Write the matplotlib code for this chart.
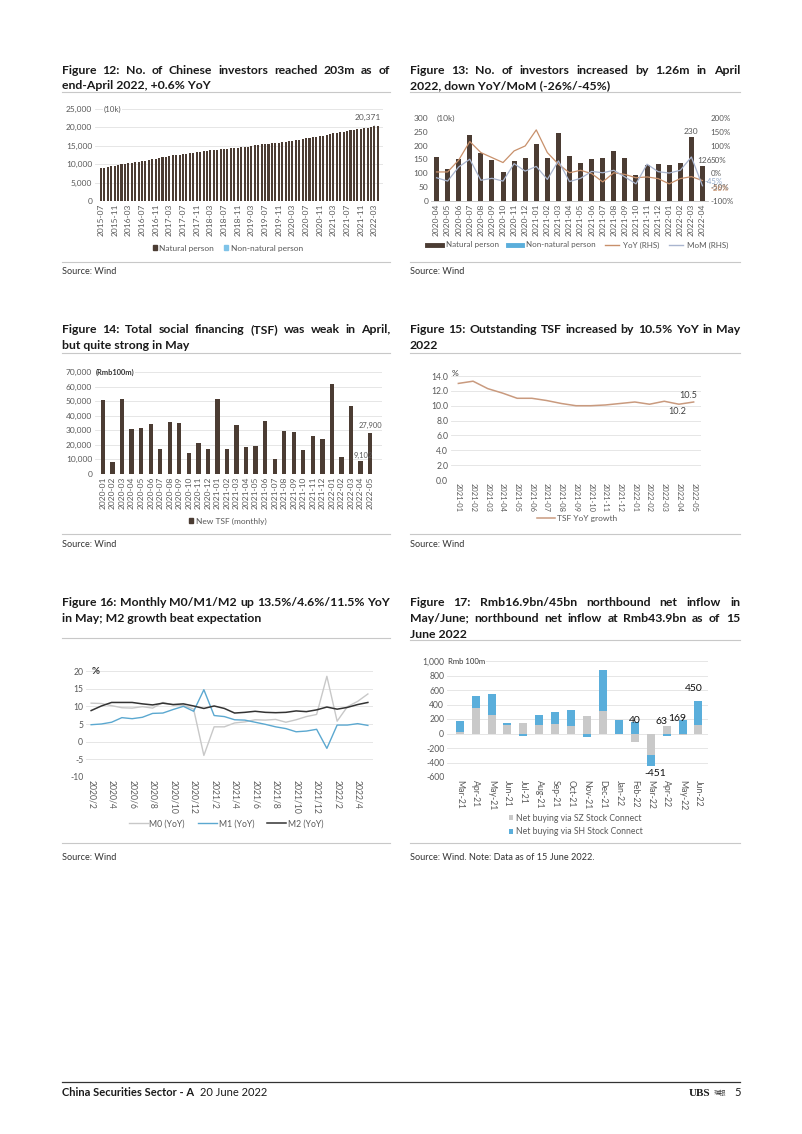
import numpy as np
import pandas as pd
import matplotlib
matplotlib.use('Agg')
import matplotlib.pyplot as plt
from matplotlib.lines import Line2D
from matplotlib.patches import Patch
from matplotlib.ticker import FuncFormatter

plt.rcParams['font.family'] = ['Lato', 'DejaVu Sans']
plt.rcParams['axes.unicode_minus'] = False

W, H = 802, 1134

# ---- Figure 12: number of investors (10k), 2015-07 .. 2022-04
months12 = list(pd.period_range('2015-07', '2022-04', freq='M').strftime('%Y-%m'))
investors = [8900, 9100, 9250, 9380, 9570, 9910,
             10030, 10110, 10320, 10460, 10560, 10670, 10800, 10990, 11160, 11300, 11530, 11811,
             11920, 12050, 12250, 12380, 12500, 12630, 12760, 12890, 13020, 13140, 13270, 13398,
             13520, 13600, 13730, 13820, 13910, 14000, 14100, 14190, 14270, 14360, 14460, 14550,
             14650, 14760, 15050, 15180, 15280, 15380, 15480, 15590, 15680, 15760, 15860, 15975,
             16080, 16250, 16440, 16560, 16670, 16830, 17070, 17250, 17370, 17480, 17620, 17777,
             17990, 18150, 18390, 18560, 18700, 18850, 19020, 19200, 19350, 19450, 19590, 19740,
             19890, 20020, 20250, 20371]

# ---- Figure 13: new investors (10k), YoY / MoM (%)
months13 = list(pd.period_range('2020-04', '2022-04', freq='M').strftime('%Y-%m'))
new_inv = [160, 117, 150, 239, 174, 148, 106, 145, 157, 206, 155, 244, 164, 139, 150, 155,
           181, 155, 93, 129, 133, 129, 137, 230, 126]
yoy13 = [5, 5, 48, 115, 75, 57, 39, 81, 99, 157, 75, 33, 2, 11, -1, -31, 2, -4, -16, -13,
         -19, -38, -19, -12, -26]
mom13 = [-16, -28, 23, 51, -25, -18, -28, 35, 8, 25, -22, 45, -30, -18, 7, 2, 11, -13, -38,
         33, 6, 1, 11, 59, -45]

# ---- Figure 14: new TSF (Rmb100m)
months14 = list(pd.period_range('2020-01', '2022-05', freq='M').strftime('%Y-%m'))
tsf = [50674, 8554, 51800, 30900, 31900, 34300, 16900, 35800, 34800, 14200, 21300, 17200,
       51700, 17100, 33400, 18500, 19200, 36700, 10600, 29600, 29000, 16200, 26100, 23700,
       61700, 11900, 46500, 9102, 27900]

# ---- Figure 15: outstanding TSF YoY (%)
months15 = list(pd.period_range('2021-01', '2022-05', freq='M').strftime('%Y-%m'))
tsf_yoy = [13.0, 13.3, 12.3, 11.7, 11.0, 11.0, 10.7, 10.3, 10.0, 10.0, 10.1, 10.3, 10.5,
           10.2, 10.6, 10.2, 10.5]

# ---- Figure 16: M0/M1/M2 YoY (%)
months16 = [f'{p.year}/{p.month}' for p in pd.period_range('2020-02', '2022-05', freq='M')]
m0 = [10.9, 10.8, 10.2, 9.6, 9.5, 9.9, 9.5, 11.1, 10.4, 10.3, 9.2, -3.9, 4.2, 4.2, 5.3, 5.6,
      6.2, 6.1, 6.3, 5.5, 6.2, 7.1, 7.7, 18.5, 5.8, 9.9, 11.4, 13.5]
m1 = [4.8, 5.0, 5.5, 6.8, 6.5, 6.9, 8.0, 8.1, 9.1, 10.0, 8.6, 14.7, 7.4, 7.1, 6.2, 6.1,
      5.5, 4.9, 4.2, 3.7, 2.8, 3.0, 3.5, -1.9, 4.7, 4.7, 5.1, 4.6]
m2 = [8.8, 10.1, 11.1, 11.1, 11.1, 10.7, 10.4, 10.9, 10.5, 10.7, 10.1, 9.4, 10.1, 9.4, 8.1,
      8.3, 8.6, 8.3, 8.2, 8.3, 8.7, 8.5, 9.0, 9.8, 9.2, 9.7, 10.5, 11.1]

# ---- Figure 17: northbound net buying (Rmb100m)
months17 = list(pd.period_range('2021-03', '2022-06', freq='M').strftime('%b-%y'))
sz = [15, 350, 250, 115, 145, 114, 132, 109, 241, 305, -10, -118, -290, 100, -21, 115]
sh = [162, 164, 295, 25, -36, 146, 163, 214, -55, 568, 180, 158, -161, -37, 190, 335]

BROWN = '#4B3C33'
BLUE = '#5AAEDB'
GREY = '#C9C9C9'
TAN = '#C99A7E'
TXT = '#595959'
TICK = 6.0

fig = plt.figure(figsize=(W / 100, H / 100), dpi=100)
renderer = fig.canvas.get_renderer()


def add_ax(l, t, r, b):
    return fig.add_axes([l / W, 1 - b / H, (r - l) / W, (b - t) / H])


def ftext(x, y, s, **kw):
    return fig.text(x / W, 1 - y / H, s, **kw)


def hrule(x0, x1, y, color='#C8C8C8', lw=0.8):
    fig.add_artist(Line2D([x0 / W, x1 / W], [1 - y / H, 1 - y / H], color=color, lw=lw))


def title_block(x0, x1, y0, lines):
    kw = dict(fontsize=8.8, fontweight='bold', va='center', color='#1A1A1A')
    for i, line in enumerate(lines):
        y = y0 + i * 15.5
        if i == len(lines) - 1:
            ftext(x0, y, line, **kw)
            continue
        words = line.split(' ')
        ts = [ftext(0, y, w, **kw) for w in words]
        widths = [t.get_window_extent(renderer).width for t in ts]
        gap = (x1 - x0 - sum(widths)) / (len(words) - 1)
        x = x0
        for t, w in zip(ts, widths):
            t.set_x(x / W)
            x += w + gap


def style(ax, grid=True, size=TICK):
    for s in ax.spines.values():
        s.set_visible(False)
    ax.tick_params(length=0, labelsize=size, colors=TXT, pad=2)
    if grid:
        ax.yaxis.grid(True, color='#E2E2E2', lw=0.6)
        ax.set_axisbelow(True)


comma = FuncFormatter(lambda v, p: f'{v:,.0f}')
LX0, LX1 = 62, 390
RX0, RX1 = 410, 740

# ================= Figure 12 =================
title_block(LX0, LX1, 70, ['Figure 12: No. of Chinese investors reached 203m as of',
                           'end-April 2022, +0.6% YoY'])
hrule(LX0, LX1, 92)
ax = add_ax(95, 109, 383, 201)
style(ax)
x = np.arange(len(investors))
ax.bar(x, investors, width=0.6, color=BROWN)
ax.set_xlim(-1.75, 82.5)
ax.set_ylim(0, 25000)
ax.set_yticks(range(0, 25001, 5000))
ax.yaxis.set_major_formatter(comma)
ax.set_xticks(x[::4])
ax.set_xticklabels(months12[::4], rotation=90)
ax.text(0.8, 25000, '(10k)', fontsize=5.8, color=TXT, va='center', ha='left',
        bbox=dict(fc='white', ec='none', pad=0.5))
ax.annotate(f'{investors[-1]:,}', xy=(x[-1] - 1, investors[-1]), xytext=(x[-1] - 3, 22800),
            fontsize=6.0, color=TXT, ha='center', va='center',
            arrowprops=dict(arrowstyle='-', color='#999999', lw=0.5))
ax.legend(handles=[Patch(color=BROWN, label='Natural person'),
                   Patch(color='#7FC3E8', label='Non-natural person')],
          loc='center', bbox_to_anchor=(228 / W, 1 - 248 / H), bbox_transform=fig.transFigure,
          ncol=2, frameon=False, fontsize=6.0, handlelength=0.5, handleheight=0.5,
          handletextpad=0.3, columnspacing=1.2, labelcolor=TXT)
hrule(LX0, LX1, 262)
ftext(LX0, 272, 'Source: Wind', fontsize=6.6, va='center', color='#333333')

# ================= Figure 13 =================
title_block(RX0, RX1, 70, ['Figure 13: No. of investors increased by 1.26m in April',
                           '2022, down YoY/MoM (-26%/-45%)'])
hrule(RX0, RX1, 92)
ax = add_ax(431, 118, 708, 201)
style(ax, grid=False)
ax.spines['bottom'].set_visible(True)
ax.spines['bottom'].set_color('#BFBFBF')
ax.spines['bottom'].set_linewidth(0.6)
x = np.arange(len(new_inv))
ax.bar(x, new_inv, width=0.45, color=BROWN)
ax.set_xlim(-0.5, 24.5)
ax.set_ylim(0, 300)
ax.set_yticks(range(0, 301, 50))
ax.set_xticks(x)
ax.set_xticklabels(months13, rotation=90)
ax.text(0.0, 300, '(10k)', fontsize=6.0, color=TXT, va='center', ha='left')
ax.text(x[-2], new_inv[-2] + 8, f'{new_inv[-2]}', fontsize=6.0, color=TXT, ha='center', va='bottom')
ax.text(x[-1] + 0.2, new_inv[-1] + 8, f'{new_inv[-1]}', fontsize=6.0, color=TXT, ha='center', va='bottom')
ax2 = ax.twinx()
style(ax2, grid=False, size=5.8)
ax2.plot(x, yoy13, color='#C8906B', lw=0.9)
ax2.plot(x, mom13, color='#A9B5CF', lw=0.9)
ax2.set_ylim(-100, 200)
ax2.set_yticks(range(-100, 201, 50))
ax2.yaxis.set_major_formatter(FuncFormatter(lambda v, p: f'{v:.0f}%'))
ax2.text(x[-1] + 0.7, yoy13[-1] - 28, f'{yoy13[-1]}%', fontsize=5.6, color='#C8906B',
         ha='left', va='center')
ax2.text(x[-1] + 0.2, mom13[-1] + 16, f'{mom13[-1]}%', fontsize=5.6, color='#8FA7C8',
         ha='left', va='center')
ax.legend(handles=[Line2D([], [], color=BROWN, lw=3.5, label='Natural person'),
                   Line2D([], [], color=BLUE, lw=3.5, label='Non-natural person'),
                   Line2D([], [], color='#C8906B', lw=1, label='YoY (RHS)'),
                   Line2D([], [], color='#A9B5CF', lw=1, label='MoM (RHS)')],
          loc='center', bbox_to_anchor=(578 / W, 1 - 245 / H), bbox_transform=fig.transFigure,
          ncol=4, frameon=False, fontsize=5.8, handlelength=1.8, handletextpad=0.5,
          columnspacing=1.1, labelcolor=TXT)
hrule(RX0, RX1, 262)
ftext(RX0, 272, 'Source: Wind', fontsize=6.6, va='center', color='#333333')

# ================= Figure 14 =================
title_block(LX0, LX1, 330, ['Figure 14: Total social financing (TSF) was weak in April,',
                            'but quite strong in May'])
hrule(LX0, LX1, 353)
ax = add_ax(95, 372, 382, 474)
style(ax)
x = np.arange(len(tsf))
ax.bar(x, tsf, width=0.45, color=BROWN)
ax.set_xlim(-0.84, 29.25)
ax.set_ylim(0, 70000)
ax.set_yticks(range(0, 70001, 10000))
ax.yaxis.set_major_formatter(comma)
ax.set_xticks(x)
ax.set_xticklabels(months14, rotation=90)
ax.text(-0.75, 70000, '(Rmb100m)', fontsize=5.4, color='#333333', fontweight='bold',
        va='center', ha='left', bbox=dict(fc='white', ec='none', pad=0.5))
ax.text(x[-2] + 0.25, 13000, f'{tsf[-2]:,}', fontsize=5.4, color=TXT, ha='center', va='center')
ax.text(x[-1], 33500, f'{tsf[-1]:,}', fontsize=5.4, color=TXT, ha='center', va='center')
ax.legend(handles=[Patch(color=BROWN, label='New TSF (monthly)')],
          loc='center', bbox_to_anchor=(228 / W, 1 - 521 / H), bbox_transform=fig.transFigure,
          frameon=False, fontsize=6.0, handlelength=0.5, handleheight=0.5,
          handletextpad=0.3, labelcolor=TXT)
hrule(LX0, LX1, 534)
ftext(LX0, 545, 'Source: Wind', fontsize=6.6, va='center', color='#333333')

# ================= Figure 15 =================
title_block(RX0, RX1, 330, ['Figure 15: Outstanding TSF increased by 10.5% YoY in May',
                            '2022'])
hrule(RX0, RX1, 353)
ax = add_ax(451, 376, 701, 480)
style(ax, size=6.2)
ax.tick_params(axis='x', labelsize=5.4)
x = np.arange(len(tsf_yoy))
ax.plot(x, tsf_yoy, color=TAN, lw=1.1)
ax.set_xlim(-0.5, 16.5)
ax.set_ylim(0, 14)
ax.set_yticks(np.arange(0, 14.1, 2))
ax.yaxis.set_major_formatter(FuncFormatter(lambda v, p: f'{v:.1f}'))
ax.set_xticks(x)
ax.set_xticklabels(months15, rotation=-90)
ax.text(-0.45, 14.4, '%', fontsize=6.0, color='#333333', ha='left', va='center')
ax.text(x[-1] - 0.35, tsf_yoy[-1] + 0.9, f'{tsf_yoy[-1]:.1f}', fontsize=6.6, color='#404040',
        ha='center', va='center')
ax.text(x[-2] - 0.1, tsf_yoy[-2] - 1.0, f'{tsf_yoy[-2]:.1f}', fontsize=6.6, color='#404040',
        ha='center', va='center')
ax.legend(handles=[Line2D([], [], color=TAN, lw=1.1, label='TSF YoY growth')],
          loc='center', bbox_to_anchor=(577 / W, 1 - 518 / H), bbox_transform=fig.transFigure,
          frameon=False, fontsize=6.0, handlelength=2.2, handletextpad=0.2, labelcolor=TXT)
hrule(RX0, RX1, 534)
ftext(RX0, 545, 'Source: Wind', fontsize=6.6, va='center', color='#333333')

# ================= Figure 16 =================
title_block(LX0, LX1, 603, ['Figure 16: Monthly M0/M1/M2 up 13.5%/4.6%/11.5% YoY',
                            'in May; M2 growth beat expectation'])
hrule(LX0, LX1, 638)
ax = add_ax(86, 671, 373, 777)
style(ax, size=6.2)
x = np.arange(len(m0))
ax.plot(x, m0, color='#C8C8C8', lw=1.0, label='M0 (YoY)')
ax.plot(x, m1, color='#5BA8D0', lw=1.0, label='M1 (YoY)')
ax.plot(x, m2, color='#333333', lw=1.1, label='M2 (YoY)')
ax.set_xlim(-0.5, 27.5)
ax.set_ylim(-10, 20)
ax.set_yticks(range(-10, 21, 5))
ax.set_xticks(x[::2])
ax.set_xticklabels(months16[::2], rotation=-90)
ax.text(0.0, 20, '%', fontsize=7, color='#333333', fontweight='bold', ha='left', va='center')
ax.legend(loc='center', bbox_to_anchor=(226 / W, 1 - 824 / H), bbox_transform=fig.transFigure,
          ncol=3, frameon=False, fontsize=6.2, handlelength=2.2, handletextpad=0.2,
          columnspacing=1.5, labelcolor=TXT)
hrule(LX0, LX1, 843)
ftext(LX0, 858, 'Source: Wind', fontsize=6.6, va='center', color='#333333')

# ================= Figure 17 =================
title_block(RX0, RX1, 603, ['Figure 17: Rmb16.9bn/45bn northbound net inflow in',
                            'May/June; northbound net inflow at Rmb43.9bn as of 15',
                            'June 2022'])
hrule(RX0, RX1, 640)
ax = add_ax(447, 661, 708, 777)
style(ax, size=6.2)
x = np.arange(len(sz))
sz_a = np.array(sz)
sh_a = np.array(sh)
sh_bottom = np.where(np.sign(sz_a) == np.sign(sh_a), sz_a, 0)
ax.bar(x, sz_a, width=0.5, color=GREY, label='Net buying via SZ Stock Connect')
ax.bar(x, sh_a, width=0.5, bottom=sh_bottom, color=BLUE, label='Net buying via SH Stock Connect')
ax.set_xlim(-0.8, 15.6)
ax.set_ylim(-600, 1000)
ax.set_yticks(range(-600, 1001, 200))
ax.yaxis.set_major_formatter(comma)
ax.set_xticks(x)
ax.set_xticklabels(months17, rotation=-90)
ax.text(-0.75, 1000, 'Rmb 100m', fontsize=5.6, color='#333333', ha='left', va='center',
        bbox=dict(fc='white', ec='none', pad=0.5))
totals = sz_a + sh_a
lab_kw = dict(fontsize=7.5, color='#111111', ha='center', va='center')
ax.text(x[11], 177, f'{totals[11]:.0f}', **lab_kw)
ax.text(x[12] + 0.3, -545, f'{totals[12]:.0f}', **lab_kw)
ax.text(x[13] - 0.3, 164, f'{totals[13]:.0f}', **lab_kw)
ax.text(x[14] - 0.35, 205, f'{totals[14]:.0f}', **lab_kw)
ax.text(x[15] - 0.3, 614, f'{totals[15]:.0f}', **lab_kw)
ax.legend(loc='center', bbox_to_anchor=(576 / W, 1 - 825 / H), bbox_transform=fig.transFigure,
          ncol=1, frameon=False, fontsize=6.2, handlelength=0.5, handleheight=0.5,
          handletextpad=0.3, labelspacing=0.5, labelcolor=TXT)
hrule(RX0, RX1, 843)
ftext(RX0, 858, 'Source: Wind. Note: Data as of 15 June 2022.', fontsize=6.6, va='center',
      color='#333333')

# ================= footer =================
hrule(LX0, RX1, 1082, color='#333333', lw=0.9)
t = ftext(LX0, 1093, 'China Securities Sector - A', fontsize=8, fontweight='bold',
          va='center', color='#1A1A1A')
w = t.get_window_extent(renderer).width
ftext(LX0 + w + 6, 1093, '20 June 2022', fontsize=8, va='center', color='#1A1A1A')
ftext(700, 1093, 'UBS', fontsize=8, fontweight='bold', family=['Liberation Serif', 'DejaVu Serif'],
      va='center', ha='center', color='#1A1A1A')
ftext(720, 1093, '瑞银', fontsize=4.5, family=['Noto Sans CJK SC', 'DejaVu Sans'],
      va='center', ha='center', color='#333333')
ftext(738, 1093, '5', fontsize=8, va='center', ha='center', color='#1A1A1A')

fig.savefig('out.png', dpi=100)
